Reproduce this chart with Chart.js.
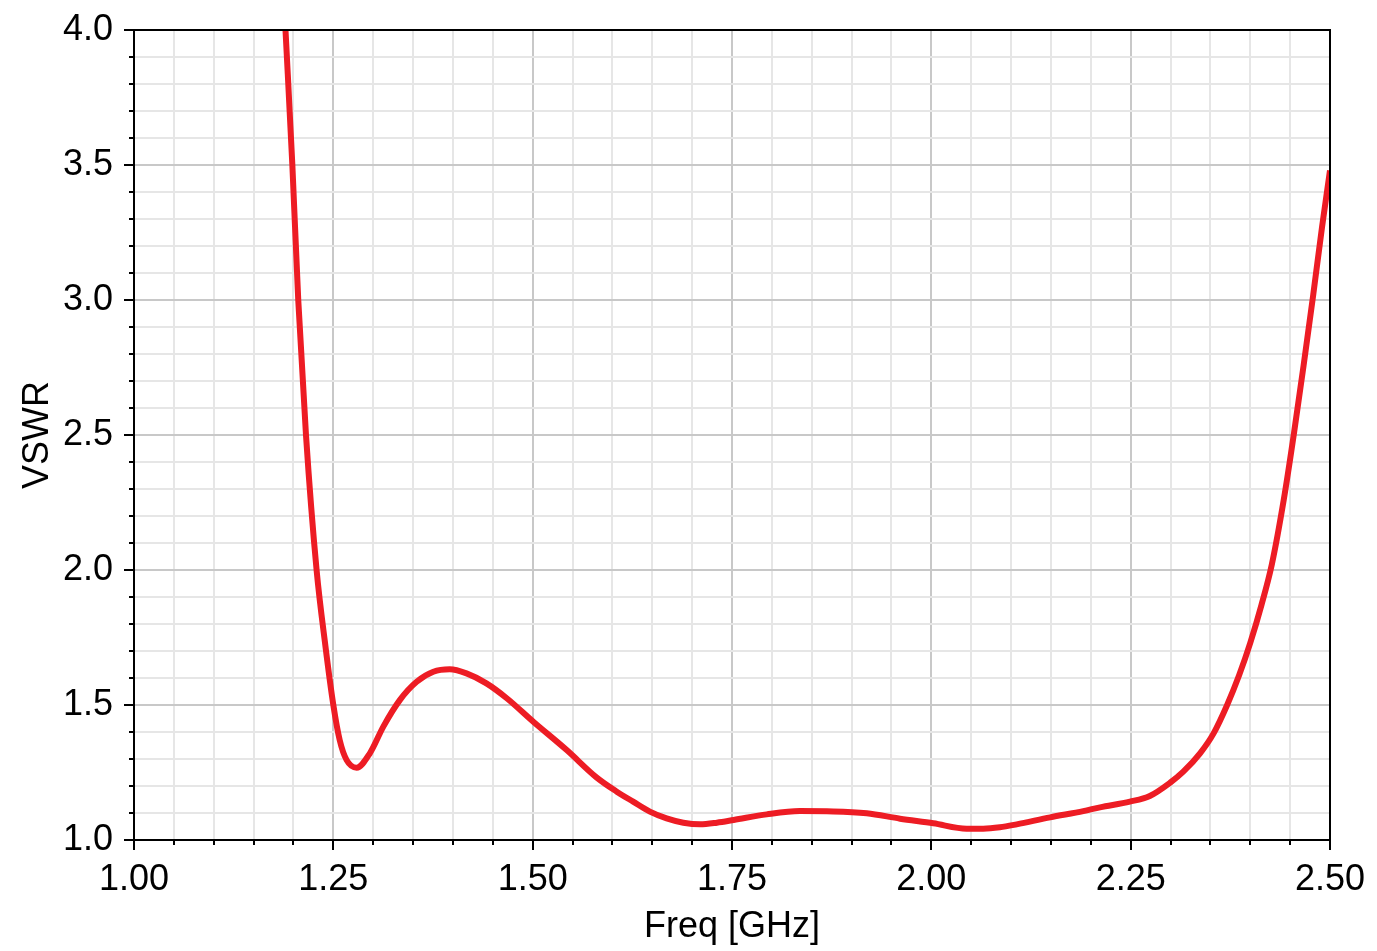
<!DOCTYPE html>
<html>
<head>
<meta charset="utf-8">
<title>VSWR</title>
<script src="https://cdn.jsdelivr.net/npm/chart.js@4/dist/chart.umd.min.js"></script>
<style>
	html, body { margin: 0; padding: 0; background: #fff; }
	canvas { display: block; }
</style>
</head>
<body>
<canvas id="chart" width="1377" height="951"></canvas>
<script>
var freqGHz = [1.190, 1.1986, 1.206, 1.2157, 1.229, 1.240, 1.250, 1.258, 1.2667, 1.2793,
	1.296, 1.3127, 1.3336, 1.3545, 1.3754, 1.396, 1.417, 1.442, 1.4675, 1.5008,
	1.5427, 1.580, 1.605, 1.626, 1.647, 1.668, 1.689, 1.710, 1.731, 1.752,
	1.7935, 1.835, 1.877, 1.919, 1.9607, 2.0025, 2.0443, 2.065, 2.086, 2.107,
	2.149, 2.1906, 2.2116, 2.249, 2.274, 2.2994, 2.316, 2.337, 2.354, 2.371,
	2.386, 2.400, 2.414, 2.427, 2.442, 2.455, 2.467, 2.479, 2.490, 2.500];

var vswr = [4.00, 3.50, 3.00, 2.50, 2.00, 1.72, 1.50, 1.37, 1.296, 1.268,
	1.322, 1.42, 1.519, 1.586, 1.623, 1.632, 1.617, 1.58, 1.525, 1.438,
	1.333, 1.232, 1.180, 1.142, 1.105, 1.080, 1.064, 1.058, 1.064, 1.074,
	1.095, 1.107, 1.106, 1.099, 1.079, 1.062, 1.042, 1.042, 1.047, 1.058,
	1.084, 1.107, 1.121, 1.142, 1.163, 1.212, 1.253, 1.321, 1.395, 1.50,
	1.61, 1.73, 1.87, 2.02, 2.26, 2.51, 2.76, 3.02, 3.27, 3.48];

var xRange = [1.0, 2.5];
var yRange = [1.0, 4.0];
var xTickStep = 0.05, xLabelStep = 0.25;
var yTickStep = 0.1, yLabelStep = 0.5;

(function (Chart) {
	'use strict';

	var FONT = '"Liberation Sans", Arial, sans-serif';

	function isMultiple(value, step) {
		var q = value / step;
		return Math.abs(q - Math.round(q)) < 1e-6;
	}

	// black frame round the plot, plus outside tick marks (long on labelled ticks)
	var frameAndTicks = {
		id: 'frameAndTicks',
		afterDraw: function (chart) {
			var ctx = chart.ctx,
				a = chart.chartArea,
				x = chart.scales.x,
				y = chart.scales.y;

			ctx.save();
			ctx.strokeStyle = '#000';
			ctx.lineWidth = 2;
			ctx.beginPath();
			x.ticks.forEach(function (t) {
				var px = Math.round(x.getPixelForValue(t.value));
				var len = isMultiple(t.value, xLabelStep) ? 10 : 5;
				ctx.moveTo(px, a.bottom);
				ctx.lineTo(px, a.bottom + len);
			});
			y.ticks.forEach(function (t) {
				var py = Math.round(y.getPixelForValue(t.value));
				var len = isMultiple(t.value, yLabelStep) ? 10 : 5;
				ctx.moveTo(a.left, py);
				ctx.lineTo(a.left - len, py);
			});
			ctx.stroke();
			ctx.strokeRect(a.left, a.top, a.right - a.left, a.bottom - a.top);
			ctx.restore();
		}
	};

	var points = freqGHz.map(function (f, i) {
		return { x: f, y: vswr[i] };
	});

	new Chart(document.getElementById('chart'), {
		type: 'line',
		data: {
			datasets: [{
				data: points,
				borderColor: '#ed1c24',
				borderWidth: 6,
				pointRadius: 0,
				cubicInterpolationMode: 'monotone',
				fill: false
			}]
		},
		options: {
			responsive: false,
			animation: false,
			devicePixelRatio: 1,
			layout: { padding: { top: 30, right: 47, left: 0, bottom: 0 } },
			plugins: {
				legend: { display: false },
				tooltip: { enabled: false }
			},
			scales: {
				x: {
					type: 'linear',
					min: xRange[0],
					max: xRange[1],
					afterFit: function (scale) {
						scale.height = 111;
						scale.paddingLeft = 0;
						scale.paddingRight = 0;
					},
					border: { display: false },
					grid: {
						drawTicks: false,
						lineWidth: 2,
						color: function (c) {
							return isMultiple(c.tick.value, xLabelStep) ? '#c8c8c8' : '#e6e6e6';
						}
					},
					ticks: {
						stepSize: xTickStep,
						autoSkip: false,
						maxRotation: 0,
						padding: 18,
						color: '#000',
						font: { family: FONT, size: 36 },
						callback: function (v) {
							return isMultiple(v, xLabelStep) ? v.toFixed(2) : '';
						}
					},
					title: {
						display: true,
						text: 'Freq [GHz]',
						color: '#000',
						font: { family: FONT, size: 36 },
						padding: { top: 0, bottom: 2 }
					}
				},
				y: {
					type: 'linear',
					min: yRange[0],
					max: yRange[1],
					afterFit: function (scale) {
						scale.width = 134;
						scale.paddingTop = 0;
						scale.paddingBottom = 0;
					},
					border: { display: false },
					grid: {
						drawTicks: false,
						lineWidth: 2,
						color: function (c) {
							return isMultiple(c.tick.value, yLabelStep) ? '#c8c8c8' : '#e6e6e6';
						}
					},
					ticks: {
						stepSize: yTickStep,
						autoSkip: false,
						padding: 21,
						color: '#000',
						font: { family: FONT, size: 36 },
						callback: function (v) {
							return isMultiple(v, yLabelStep) ? v.toFixed(1) : '';
						}
					},
					title: {
						display: true,
						text: 'VSWR',
						color: '#000',
						font: { family: FONT, size: 36 },
						padding: { top: 16, bottom: 0 }
					}
				}
			}
		},
		plugins: [frameAndTicks]
	});

}).call(this, this.Chart);
</script>
</body>
</html>
